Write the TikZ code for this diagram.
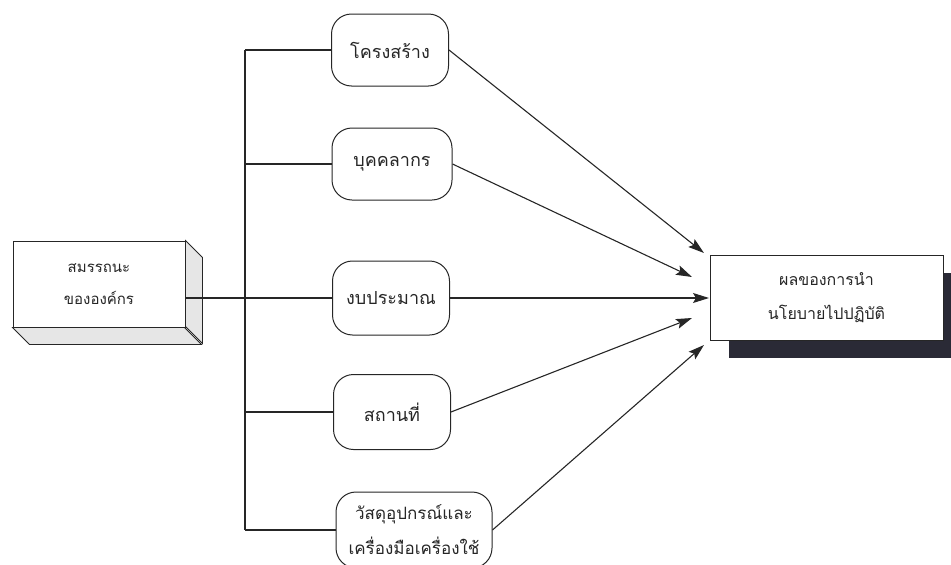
\documentclass[tikz,border=0pt]{standalone}
\usepackage{fontspec}
\newfontfamily\thaifont[Script=Thai]{Loma}
\usetikzlibrary{arrows.meta}
\definecolor{ink}{HTML}{262626}
\definecolor{shadowc}{HTML}{2A2A36}
\definecolor{sidec}{HTML}{E6E6E6}
\tikzset{
  x=1pt,y=-1pt,
  every node/.style={font=\thaifont\fontsize{15}{32}\selectfont, text=ink, align=center},
  midtext/.style={font=\thaifont\fontsize{18}{24}\selectfont},
  rbox/.style={draw=ink, line width=1pt, rounded corners=20pt, fill=white, inner sep=0pt, midtext},
  plainbox/.style={draw=ink, line width=1pt, fill=white, inner sep=0pt},
  conn/.style={draw=ink, line width=1.1pt},
  arr/.style={conn, -{Stealth[length=16pt,width=10pt,inset=3pt]}}
}
\begin{document}
\begin{tikzpicture}
\useasboundingbox (0,0) rectangle (951,565);
% left 3D box
\node[plainbox, minimum width=172pt, minimum height=86pt] (org) at (99,284) {สมรรถนะ\\ขององค์กร};
\fill[sidec, draw=ink, line width=0.8pt] (org.north east) -- ++(17,17) -- ++(0,86) -- ++(-17,-17) -- cycle;
\fill[sidec, draw=ink, line width=0.8pt] (org.south west) -- ++(17,17) -- ++(172,0) -- ++(-17,-17) -- cycle;
% right box with shadow
\fill[shadowc] (729,273) rectangle (965,358);
\node[plainbox, minimum width=233pt, minimum height=85pt, font=\thaifont\fontsize{16}{34}\selectfont] (res) at (826.5,297.5) {ผลของการนำ\\นโยบายไปปฏิบัติ};
% middle rounded boxes
\node[rbox, minimum width=117pt, minimum height=72pt] (b1) at (390,50) {โครงสร้าง};
\node[rbox, minimum width=120pt, minimum height=72pt] (b2) at (392,164) {บุคคลากร};
\node[rbox, minimum width=117pt, minimum height=74pt] (b3) at (391,298) {งบประมาณ};
\node[rbox, minimum width=117pt, minimum height=75pt] (b4) at (392,412) {สถานที่};
\node[rbox, minimum width=156pt, minimum height=76pt, font=\thaifont\fontsize{17}{35}\selectfont] (b5) at (414,530) {วัสดุอุปกรณ์และ\\เครื่องมือเครื่องใช้};
% trunk
\coordinate (j1) at (245,50);
\coordinate (j2) at (245,164);
\coordinate (j4) at (245,412);
\coordinate (j5) at (245,530);
\draw[conn] (j1) -- (j5);
\draw[conn] (j1) -- (b1.west);
\draw[conn] (j2) -- (b2.west);
\draw[conn] (org.east |- b3.west) -- (b3.west);
\draw[conn] (j4) -- (b4.west);
\draw[conn] (j5) -- (b5.west);
% arrows
\coordinate (t1) at (704,253);
\coordinate (t2) at (692,277);
\coordinate (t3) at (709,298);
\coordinate (t4) at (692,318);
\coordinate (t5) at (704,345);
\draw[arr] (b1.east) -- (t1);
\draw[arr] (b2.east) -- (t2);
\draw[arr] (b3.east) -- (t3);
\draw[arr] (b4.east) -- (t4);
\draw[arr] (b5.east) -- (t5);
\end{tikzpicture}
\end{document}
